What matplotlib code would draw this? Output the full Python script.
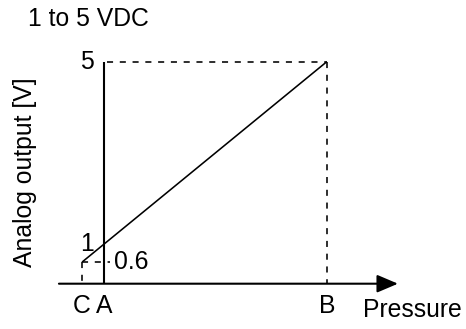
import matplotlib
matplotlib.use("Agg")
import matplotlib.pyplot as plt

plt.rcParams["font.family"] = ["Liberation Sans", "DejaVu Sans"]

# ── data ──────────────────────────────────────────────────────────────────────
point_labels = ["C", "A", "B"]
point_pressure = [-0.1, 0.0, 1.0]      # C (below range), A (min), B (max)
output_v = [0.6, 1.0, 5.0]             # output at C, A, B
range_text = "1 to 5 VDC"
x_title = "Pressure"
y_title = "Analog output [V]"

BASE_V = 0.125                          # where the pressure axis sits
FS = 17.8
LW_AXIS = 1.5
LW_THIN = 1.15
DASH = (0, (3.8, 4.2))

fig = plt.figure(figsize=(4.66, 3.29), dpi=100)
ax = fig.add_axes([0, 0, 1, 1])
ax.set_xlim(-0.469, 1.626)
ax.set_ylim(-0.870, 6.356)
ax.axis("off")

pc, pa, pb = point_pressure
vc, va, vb = output_v

# output line from C to B
ax.plot([pc, pb], [vc, vb], color="black", lw=LW_THIN, solid_capstyle="butt")

# vertical axis at A
ax.plot([pa, pa], [BASE_V, vb], color="black", lw=LW_AXIS, solid_capstyle="butt")

# pressure axis with arrow
ax.annotate("", xy=(1.32, BASE_V), xytext=(-0.204, BASE_V),
            arrowprops=dict(arrowstyle="-|>,head_length=0.4,head_width=0.17",
                            mutation_scale=32, color="black", lw=LW_AXIS,
                            shrinkA=0, shrinkB=0))

# dashed guides
ax.plot([pa + 0.01, pb], [vb, vb], color="black", lw=LW_THIN, linestyle=DASH)
ax.plot([pb, pb], [vb, BASE_V], color="black", lw=LW_THIN, linestyle=DASH)
ax.plot([pc, pa + 0.025], [vc, vc], color="black", lw=LW_THIN, linestyle=DASH)
ax.plot([pc, pc], [vc, BASE_V], color="black", lw=LW_THIN, linestyle=DASH)

# point labels under the axis
for lab, p in zip(point_labels, point_pressure):
    ax.text(p, BASE_V - 0.5, lab, ha="center", va="center", fontsize=FS)

# voltage labels
ax.text(pa - 0.08, vb, f"{vb:g}", ha="center", va="center", fontsize=FS)
ax.text(pa - 0.08, va, f"{va:g}", ha="center", va="center", fontsize=FS)
ax.text(pa + 0.045, vc, f"{vc:g}", ha="left", va="center", fontsize=FS)

# titles
fig.text(28 / 466, 1 - 19 / 329, range_text, ha="left", va="center", fontsize=FS)
fig.text(25 / 466, 1 - 172 / 329, y_title, ha="center", va="center",
         rotation=90, fontsize=FS)
fig.text(363 / 466, 1 - 310 / 329, x_title, ha="left", va="center", fontsize=FS)

fig.savefig("out.png", dpi=100, facecolor="white")
